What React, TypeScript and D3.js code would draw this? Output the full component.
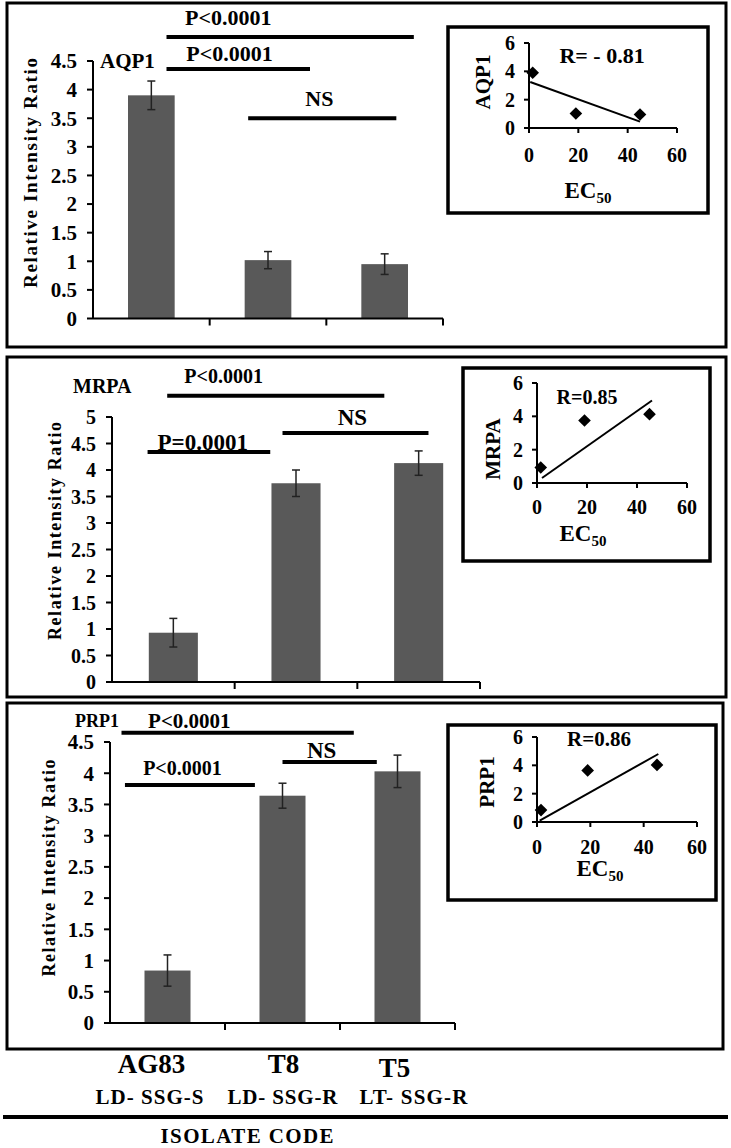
import React from 'react';
import * as d3 from 'd3';

// isolates / strains on the shared x axis
const isolates = ['AG83', 'T8', 'T5'];
const strains = ['LD- SSG-S', 'LD- SSG-R', 'LT- SSG-R'];
const ec50 = [1.5, 19, 45];

// relative intensity ratio, mean and error per isolate
const aqp1Means = [3.9, 1.02, 0.95];
const aqp1Errors = [0.25, 0.15, 0.18];
const mrpaMeans = [0.93, 3.75, 4.13];
const mrpaErrors = [0.27, 0.25, 0.23];
const prp1Means = [0.84, 3.64, 4.03];
const prp1Errors = [0.25, 0.2, 0.26];

// trend lines of the EC50 insets, [ec50, ratio] end points
const aqp1Trend: [number, number][] = [[0.5, 3.25], [45, 0.45]];
const mrpaTrend: [number, number][] = [[2, 0.3], [46, 4.95]];
const prp1Trend: [number, number][] = [[1, 0.1], [45.5, 4.8]];

const aqp1Sig = ['P<0.0001', 'P<0.0001', 'NS'];
const mrpaSig = ['P<0.0001', 'NS', 'P=0.0001'];
const prp1Sig = ['P<0.0001', 'NS', 'P<0.0001'];

const ecTicks = [0, 20, 40, 60];
const insetTicks = [0, 2, 4, 6];

const FONT = "'Liberation Serif', 'Times New Roman', Times, serif";
const BAR = '#595959';

// layout: x0/x1 in category units, y / ty in value units
const panels = [
  {
    gene: 'AQP1', means: aqp1Means, errors: aqp1Errors, yMax: 4.5, trend: aqp1Trend, r: 'R= - 0.81', sig: aqp1Sig,
    box: [7, 3, 726, 347], plot: {l: 93, r: 443, t: 61, b: 318.5}, tickFont: 21,
    title: {x: 30, y: 173, len: 230, fs: 19}, geneAt: [100, 68, 21],
    brackets: [
      {x0: 0.63, x1: 2.75, y: 4.92, tx: 1.16, ty: 5.27, fs: 22},
      {x0: 0.63, x1: 1.86, y: 4.36, tx: 1.17, ty: 4.64, fs: 22},
      {x0: 1.33, x1: 2.6, y: 3.5, tx: 1.94, ty: 3.84, fs: 22},
    ],
    inset: {box: [448, 27, 708, 213], l: 529, r: 677, t: 43, b: 128, tickY: 155, ec: [588, 190], gene: [483, 82], rAt: [602, 55], rFs: 22},
  },
  {
    gene: 'MRPA', means: mrpaMeans, errors: mrpaErrors, yMax: 5, trend: mrpaTrend, r: 'R=0.85', sig: mrpaSig,
    box: [7, 357, 726, 697], plot: {l: 112, r: 480, t: 417, b: 682}, tickFont: 20,
    title: {x: 55, y: 531, len: 218, fs: 18}, geneAt: [73, 393, 20],
    brackets: [
      {x0: 0.45, x1: 2.22, y: 5.4, tx: 0.91, ty: 5.77, fs: 20},
      {x0: 1.39, x1: 2.58, y: 4.7, tx: 1.96, ty: 5.0, fs: 23},
      {x0: 0.29, x1: 1.29, y: 4.34, tx: 0.74, ty: 4.53, fs: 23},
    ],
    inset: {box: [463, 368, 710, 561], l: 537, r: 687, t: 383, b: 483, tickY: 507, ec: [583, 533], gene: [493, 449], rAt: [587, 397], rFs: 20},
  },
  {
    gene: 'PRP1', means: prp1Means, errors: prp1Errors, yMax: 4.5, trend: prp1Trend, r: 'R=0.86', sig: prp1Sig,
    box: [7, 703, 723, 1049], plot: {l: 110, r: 455, t: 742, b: 1023}, tickFont: 21,
    title: {x: 49, y: 868, len: 217, fs: 18}, geneAt: [75, 727, 18],
    brackets: [
      {x0: 0.1, x1: 2.12, y: 4.65, tx: 0.69, ty: 4.84, fs: 21},
      {x0: 1.5, x1: 2.32, y: 4.18, tx: 1.84, ty: 4.38, fs: 23},
      {x0: 0.13, x1: 1.26, y: 3.81, tx: 0.63, ty: 4.09, fs: 20},
    ],
    inset: {box: [448, 725, 716, 900], l: 537, r: 697, t: 737, b: 822, tickY: 847, ec: [600, 868], gene: [487, 782], rAt: [599, 739], rFs: 21},
  },
];

const Inset = ({p}: {p: any}) => {
  const s = p.inset;
  const x = d3.scaleLinear().domain([0, 60]).range([s.l, s.r]);
  const y = d3.scaleLinear().domain([0, 6]).range([s.b, s.t]);
  const diamond = d3.symbol(d3.symbolSquare, 80)()!;
  const line = d3.line<[number, number]>().x(d => x(d[0])).y(d => y(d[1]));
  return (
    <g>
      <rect x={s.box[0]} y={s.box[1]} width={s.box[2] - s.box[0]} height={s.box[3] - s.box[1]}
            fill="#fff" stroke="#000" strokeWidth={3.5}/>
      <line x1={s.l} x2={s.l} y1={y(6)} y2={y(0)} stroke="#000" strokeWidth={2}/>
      <line x1={s.l} x2={s.r} y1={y(0)} y2={y(0)} stroke="#000" strokeWidth={2}/>
      {insetTicks.map(t => (
        <g key={'y' + t}>
          <line x1={s.l - 5} x2={s.l} y1={y(t)} y2={y(t)} stroke="#000" strokeWidth={2}/>
          <text x={s.l - 14} y={y(t)} dy="0.35em" textAnchor="end" fontSize={20}>{t}</text>
        </g>
      ))}
      {ecTicks.map(t => (
        <g key={'x' + t}>
          <line x1={x(t)} x2={x(t)} y1={y(0)} y2={y(0) + 5} stroke="#000" strokeWidth={2}/>
          <text x={x(t)} y={s.tickY} dy="0.35em" textAnchor="middle" fontSize={20}>{t}</text>
        </g>
      ))}
      <path d={line(p.trend)!} fill="none" stroke="#000" strokeWidth={2}/>
      {p.means.map((m: number, i: number) => (
        <path key={i} d={diamond} transform={`translate(${x(ec50[i])},${y(m)}) rotate(45)`} fill="#000"/>
      ))}
      <text x={s.rAt[0]} y={s.rAt[1]} dy="0.35em" textAnchor="middle" fontSize={s.rFs}>{p.r}</text>
      <text x={s.ec[0]} y={s.ec[1]} dy="0.35em" textAnchor="middle" fontSize={23}>
        EC<tspan fontSize={15} dy="5">50</tspan>
      </text>
      <text transform={`translate(${s.gene[0]},${s.gene[1]}) rotate(-90)`} textAnchor="middle" dy="0.35em"
            fontSize={21}>{p.gene}</text>
    </g>
  );
};

const BarPanel = ({p}: {p: any}) => {
  const x = d3.scaleBand().domain(isolates).range([p.plot.l, p.plot.r]).padding(0);
  const pos = d3.scaleLinear().domain([0, isolates.length]).range([p.plot.l, p.plot.r]);
  const y = d3.scaleLinear().domain([0, p.yMax]).range([p.plot.b, p.plot.t]);
  const yTicks = d3.range(0, p.yMax + 0.01, 0.5);
  const bw = x.bandwidth() * 0.4;
  const [bx0, by0, bx1, by1] = p.box;
  return (
    <g>
      <rect x={bx0} y={by0} width={bx1 - bx0} height={by1 - by0} fill="none" stroke="#000" strokeWidth={3}/>
      {/* bars + error bars */}
      {isolates.map((c, i) => {
        const cx = x(c)! + x.bandwidth() / 2;
        const m = p.means[i];
        const e = p.errors[i];
        return (
          <g key={c}>
            <rect x={cx - bw / 2} y={y(m)} width={bw} height={y(0) - y(m)} fill={BAR}/>
            <line x1={cx} x2={cx} y1={y(m + e)} y2={y(m - e)} stroke="#222" strokeWidth={1.5}/>
            <line x1={cx - 4} x2={cx + 4} y1={y(m + e)} y2={y(m + e)} stroke="#222" strokeWidth={1.5}/>
            <line x1={cx - 4} x2={cx + 4} y1={y(m - e)} y2={y(m - e)} stroke="#222" strokeWidth={1.5}/>
          </g>
        );
      })}
      {/* axes */}
      <line x1={p.plot.l} x2={p.plot.l} y1={y(p.yMax)} y2={y(0)} stroke="#000" strokeWidth={2}/>
      <line x1={p.plot.l} x2={p.plot.r} y1={y(0)} y2={y(0)} stroke="#000" strokeWidth={2}/>
      {yTicks.map(t => (
        <g key={t}>
          <line x1={p.plot.l - 6} x2={p.plot.l} y1={y(t)} y2={y(t)} stroke="#000" strokeWidth={2}/>
          <text x={p.plot.l - 16} y={y(t)} dy="0.35em" textAnchor="end" fontSize={p.tickFont}>{+t.toFixed(1)}</text>
        </g>
      ))}
      {isolates.map(c => (
        <line key={c} x1={x(c)! + x.bandwidth()} x2={x(c)! + x.bandwidth()} y1={y(0)} y2={y(0) + 7}
              stroke="#000" strokeWidth={2}/>
      ))}
      <text transform={`translate(${p.title.x},${p.title.y}) rotate(-90)`} textAnchor="middle" dy="0.35em"
            fontSize={p.title.fs} textLength={p.title.len} lengthAdjust="spacing">Relative Intensity Ratio</text>
      <text x={p.geneAt[0]} y={p.geneAt[1]} fontSize={p.geneAt[2]}>{p.gene}</text>
      {/* significance */}
      {p.brackets.map((b: any, i: number) => (
        <g key={i}>
          <line x1={pos(b.x0)} x2={pos(b.x1)} y1={y(b.y)} y2={y(b.y)} stroke="#000" strokeWidth={4}/>
          <text x={pos(b.tx)} y={y(b.ty)} dy="0.35em" textAnchor="middle" fontSize={b.fs}>{p.sig[i]}</text>
        </g>
      ))}
      <Inset p={p}/>
    </g>
  );
};

const App = () => {
  const last = panels[2];
  const x = d3.scaleBand().domain(isolates).range([last.plot.l, last.plot.r]).padding(0);
  const nameShift = [-16, 1, -3];
  const nameDrop = [0, 0, 4];
  const strainShift = [-18, 0, 16];
  const strainLen = [108, 110, 108];
  return (
    <svg width={731} height={1148} style={{position: 'absolute', left: 0, top: 0, background: '#fff'}}
         fontFamily={FONT} fontWeight="bold">
      <rect width={731} height={1148} fill="#fff"/>
      {panels.map(p => <BarPanel key={p.gene} p={p}/>)}
      {isolates.map((c, i) => {
        const cx = x(c)! + x.bandwidth() / 2;
        return (
          <g key={c}>
            <text x={cx + nameShift[i]} y={1073 + nameDrop[i]} textAnchor="middle" fontSize={27}>{c}</text>
            <text x={cx + strainShift[i]} y={1104} textAnchor="middle" fontSize={21}
                  textLength={strainLen[i]} lengthAdjust="spacing">{strains[i]}</text>
          </g>
        );
      })}
      <line x1={3} x2={728} y1={1117} y2={1117} stroke="#000" strokeWidth={4}/>
      <text x={247} y={1143} textAnchor="middle" fontSize={21} textLength={173} lengthAdjust="spacing">ISOLATE CODE</text>
    </svg>
  );
};

export default App;
